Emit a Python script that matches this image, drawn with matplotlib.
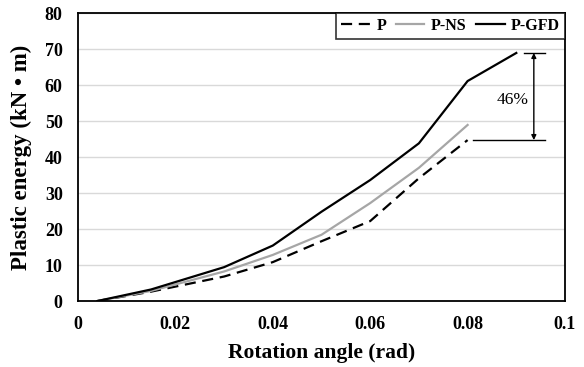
import numpy as np
import matplotlib.pyplot as plt

plt.rcParams['font.family'] = ['Liberation Serif', 'DejaVu Serif']

# data
x_p = [0.004, 0.015, 0.03, 0.04, 0.05, 0.06, 0.07, 0.08]
y_p = [0, 2.6, 6.8, 10.8, 16.6, 22.2, 34.1, 44.7]

x_ns = [0.004, 0.015, 0.03, 0.04, 0.05, 0.06, 0.07, 0.08]
y_ns = [0, 2.8, 8.2, 12.8, 18.4, 27.2, 37.0, 48.9]

x_gfd = [0.004, 0.015, 0.03, 0.04, 0.05, 0.06, 0.07, 0.08, 0.09]
y_gfd = [0, 3.2, 9.4, 15.4, 24.8, 33.6, 43.8, 61.1, 68.9]

xticks = [0, 0.02, 0.04, 0.06, 0.08, 0.1]
xticklabels = ['0', '0.02', '0.04', '0.06', '0.08', '0.1']
yticks = [0, 10, 20, 30, 40, 50, 60, 70, 80]

fig = plt.figure(figsize=(5.84, 3.67), dpi=100)
ax = fig.add_axes([78/584, 1 - 301/367, (565-78)/584, (301-13)/367])

ax.plot(x_p, y_p, color='black', lw=1.6, ls=(0, (5, 3)), label='P')
ax.plot(x_ns, y_ns, color='#a6a6a6', lw=1.6, label='P-NS')
ax.plot(x_gfd, y_gfd, color='black', lw=1.6, label='P-GFD')

ax.set_xlim(0, 0.1)
ax.set_ylim(0, 80)
ax.set_xticks(xticks)
ax.set_xticklabels(xticklabels)
ax.set_yticks(yticks)
ax.tick_params(axis='x', length=0, labelsize=13, pad=11)
ax.tick_params(axis='y', length=0, labelsize=13, pad=11)
for lab in ax.get_xticklabels() + ax.get_yticklabels():
    lab.set_fontweight('bold')
ax.grid(axis='y', color='#d9d9d9', lw=1)
ax.set_axisbelow(True)
for s in ax.spines.values():
    s.set_linewidth(1.3)
    s.set_color('black')

ax.set_xlabel('Rotation angle (rad)', fontsize=15.5, fontweight='bold', va='center')
ax.set_ylabel('Plastic energy (kN • m)', fontsize=16.5, fontweight='bold', va='center')
ax.xaxis.set_label_coords(0.5, (301 - 353) / 288)
ax.yaxis.set_label_coords((21 - 78) / 487, 0.5)

# 46% annotation
top = y_gfd[-1]
bot = y_p[-1]
ax.plot([0.0916, 0.0959], [top, top], color='black', lw=1)
ax.plot([0.0811, 0.0959], [bot, bot], color='black', lw=1)
ax.annotate('', xy=(0.0936, top), xytext=(0.0936, bot),
            arrowprops=dict(arrowstyle='<|-|>', color='black', lw=1,
                            mutation_scale=7, shrinkA=0, shrinkB=0))
ax.text(0.0893, 55.8, '46%', fontsize=12.5, ha='center', va='center')

leg = ax.legend(loc='upper right', ncol=3, frameon=True,
                fancybox=False, borderaxespad=0, handlelength=1.8,
                columnspacing=0.6, handletextpad=0.4, borderpad=0.3,
                prop={'weight': 'bold', 'size': 11.5})
leg.get_frame().set_edgecolor('black')
leg.get_frame().set_linewidth(1.2)

fig.savefig('out.png', dpi=100)
